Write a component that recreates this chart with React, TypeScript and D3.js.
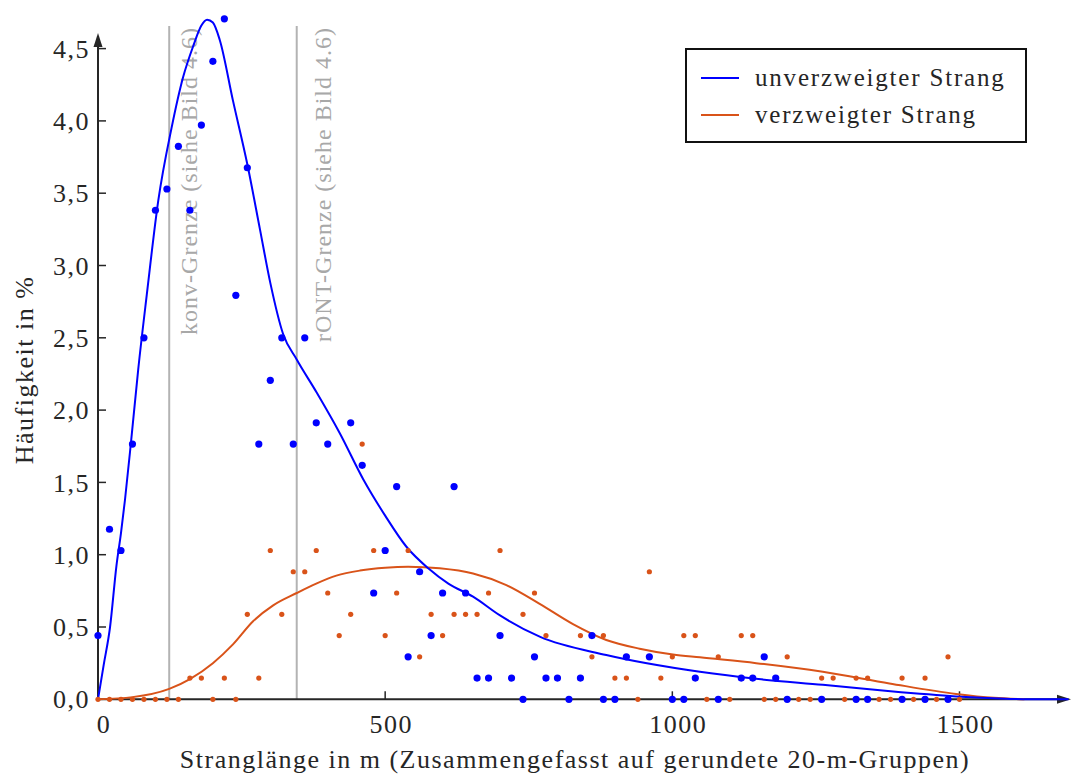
import React from 'react';
import * as d3 from 'd3';

// ---- data ----
const blueDotsX = [0, 20, 40, 60, 80, 100, 120, 140, 160, 180, 200, 220, 240, 260, 280, 300, 320, 340, 360, 380, 400, 440, 460, 480, 500, 520, 540, 560, 580, 600, 620, 640, 660, 680, 700, 720, 740, 760, 780, 800, 820, 840, 860, 880, 900, 920, 960, 1000, 1020, 1040, 1080, 1120, 1140, 1160, 1180, 1200, 1260, 1320, 1340, 1400, 1440, 1480];
const blueDotsY = [0.441, 1.176, 1.029, 1.765, 2.5, 3.382, 3.529, 3.824, 3.382, 3.971, 4.412, 4.706, 2.794, 3.676, 1.765, 2.206, 2.5, 1.765, 2.5, 1.912, 1.765, 1.912, 1.618, 0.735, 1.029, 1.471, 0.294, 0.882, 0.441, 0.735, 1.471, 0.735, 0.147, 0.147, 0.441, 0.147, 0, 0.294, 0.147, 0.147, 0, 0.147, 0.441, 0, 0, 0.294, 0.294, 0, 0, 0.147, 0, 0.147, 0.147, 0.294, 0.147, 0, 0, 0, 0, 0, 0, 0];

const orangeDotsX = [0, 20, 40, 60, 80, 100, 120, 140, 160, 180, 200, 220, 240, 260, 280, 300, 320, 340, 360, 380, 400, 420, 440, 460, 480, 500, 520, 540, 560, 580, 600, 620, 640, 660, 680, 700, 740, 760, 780, 840, 860, 880, 900, 920, 940, 960, 980, 1000, 1020, 1040, 1060, 1080, 1100, 1120, 1140, 1160, 1180, 1200, 1220, 1240, 1260, 1280, 1300, 1320, 1340, 1360, 1380, 1400, 1420, 1440, 1460, 1480, 1500];
const orangeDotsY = [0, 0, 0, 0, 0, 0, 0, 0, 0.147, 0.147, 0, 0.147, 0, 0.588, 0.147, 1.029, 0.588, 0.882, 0.882, 1.029, 0.735, 0.441, 0.588, 1.765, 1.029, 0.441, 0.735, 1.029, 0.294, 0.588, 0.441, 0.588, 0.588, 0.588, 0.735, 1.029, 0.588, 0.735, 0.441, 0.441, 0.294, 0.441, 0.147, 0.147, 0, 0.882, 0.147, 0.294, 0.441, 0.441, 0, 0.294, 0, 0.441, 0.441, 0, 0, 0.294, 0, 0, 0.147, 0.147, 0, 0.147, 0.147, 0, 0, 0.147, 0, 0.147, 0, 0.294, 0];

const blueCurveX = [0, 10, 21, 32, 40, 47, 58, 70, 85, 105, 128, 148, 166, 180, 190, 200, 212, 235, 260, 282, 300, 322, 346, 381, 421, 462, 500, 537, 575, 610, 653, 700, 769, 885, 1048, 1150, 1262, 1380, 1494, 1580, 1620, 1690];
const blueCurveY = [0, 0.24, 0.5, 0.92, 1.15, 1.38, 1.8, 2.28, 2.8, 3.45, 3.95, 4.3, 4.52, 4.66, 4.7, 4.68, 4.56, 4.14, 3.7, 3.25, 2.88, 2.53, 2.35, 2.12, 1.84, 1.52, 1.27, 1.055, 0.906, 0.8, 0.71, 0.58, 0.433, 0.306, 0.19, 0.14, 0.1, 0.055, 0.02, 0.004, 0, 0];

const orangeCurveX = [0, 60, 124, 160, 200, 235, 270, 305, 346, 380, 415, 456, 500, 540, 595, 653, 711, 769, 827, 885, 943, 1001, 1048, 1146, 1262, 1378, 1494, 1560, 1613];
const orangeCurveY = [0, 0.015, 0.072, 0.14, 0.25, 0.38, 0.54, 0.65, 0.735, 0.8, 0.855, 0.89, 0.91, 0.917, 0.906, 0.87, 0.79, 0.66, 0.52, 0.41, 0.35, 0.31, 0.29, 0.25, 0.19, 0.11, 0.037, 0.01, 0];

const yTicks = [0, 0.5, 1, 1.5, 2, 2.5, 3, 3.5, 4, 4.5];
const xTicks = [0, 500, 1000, 1500];
const seriesNames = ['unverzweigter Strang', 'verzweigter Strang'];
const refLinesX = [124, 346];
const refLabels = ['konv-Grenze (siehe Bild 4.6)', 'rONT-Grenze (siehe Bild 4.6)'];
const xTitle = 'Stranglänge in m (Zusammengefasst auf gerundete 20-m-Gruppen)';
const yTitle = 'Häufigkeit in %';

const BLUE = '#0000ff';
const ORANGE = '#d95319';
const AXIS = '#262626';
const FONT = '"Liberation Serif", "Times New Roman", serif';

export default function App() {
  const W = 1071, H = 776;
  const x = d3.scaleLinear().domain([0, 1500]).range([98, 959.5]);
  const y = d3.scaleLinear().domain([0, 4.5]).range([699.3, 48.6]);
  const y0 = y(0);
  const x0 = x(0);

  const line = d3.line<[number, number]>()
    .x(d => x(d[0]))
    .y(d => y(d[1]))
    .curve(d3.curveMonotoneX);

  const bluePath = line(blueCurveX.map((v, i) => [v, blueCurveY[i]] as [number, number])) || '';
  const orangePath = line(orangeCurveX.map((v, i) => [v, orangeCurveY[i]] as [number, number])) || '';
  const fmt = (v: number) => v.toFixed(1).replace('.', ',');

  return (
    <svg width={W} height={H} viewBox={`0 0 ${W} ${H}`}
      style={{ position: 'absolute', left: 0, top: 0, background: '#fff' }}
      fontFamily={FONT}>
      <rect x={0} y={0} width={W} height={H} fill="#fff" />

      {/* reference lines */}
      {refLinesX.map((v, i) => (
        <g key={'ref' + i}>
          <line x1={x(v)} x2={x(v)} y1={26} y2={y0} stroke="#b3b3b3" strokeWidth={2} />
        </g>
      ))}
      <text transform={`translate(${x(refLinesX[0]) + 28},27) rotate(-90)`} textAnchor="end"
        fontSize={24} fill="#a8a8a8" style={{ letterSpacing: '1px' }}>{refLabels[0]}</text>
      <text transform={`translate(${x(refLinesX[1]) + 34},27) rotate(-90)`} textAnchor="end"
        fontSize={24} fill="#a8a8a8" style={{ letterSpacing: '1px' }}>{refLabels[1]}</text>

      {/* axes */}
      <line x1={x0} x2={1060} y1={y0} y2={y0} stroke={AXIS} strokeWidth={2} />
      <path d={`M1071,${y0} L1057,${y0 - 4.5} L1057,${y0 + 4.5} Z`} fill={AXIS} />
      <line x1={x0} x2={x0} y1={y0} y2={36} stroke={AXIS} strokeWidth={2} />
      <path d={`M${x0},33 L${x0 - 4.5},47 L${x0 + 4.5},47 Z`} fill={AXIS} />

      {yTicks.map(t => (
        <g key={'yt' + t}>
          {t > 0 && <line x1={x0} x2={x0 + 8} y1={y(t)} y2={y(t)} stroke={AXIS} strokeWidth={1.5} />}
          <text x={90} y={y(t)} dy="0.35em" textAnchor="end" fontSize={26} fill={AXIS}
            style={{ letterSpacing: '1.5px' }}>{fmt(t)}</text>
        </g>
      ))}
      {xTicks.map(t => (
        <g key={'xt' + t}>
          {t > 0 && <line x1={x(t)} x2={x(t)} y1={y0} y2={y0 - 8} stroke={AXIS} strokeWidth={1.5} />}
          <text x={x(t) + 6} y={733} textAnchor="middle" fontSize={26} fill={AXIS}
            style={{ letterSpacing: '1.5px' }}>{t}</text>
        </g>
      ))}

      <text x={575} y={768} textAnchor="middle" fontSize={26} fill={AXIS}
        style={{ letterSpacing: '1.5px' }}>{xTitle}</text>
      <text transform="translate(33,370) rotate(-90)" textAnchor="middle" fontSize={26} fill={AXIS}
        style={{ letterSpacing: '1.5px' }}>{yTitle}</text>

      {/* curves */}
      <path d={orangePath} fill="none" stroke={ORANGE} strokeWidth={2} />
      <path d={bluePath} fill="none" stroke={BLUE} strokeWidth={2} />

      {/* dots */}
      {blueDotsX.map((v, i) => (
        <circle key={'b' + i} cx={x(v)} cy={y(blueDotsY[i])} r={3.6} fill={BLUE} />
      ))}
      {orangeDotsX.map((v, i) => (
        <circle key={'o' + i} cx={x(v)} cy={y(orangeDotsY[i])} r={2.6} fill={ORANGE} />
      ))}

      {/* legend */}
      <rect x={686} y={49} width={340} height={93} fill="#fff" stroke="#111" strokeWidth={2} />
      <line x1={701} x2={739} y1={78} y2={78} stroke={BLUE} strokeWidth={2} />
      <text x={755} y={86} fontSize={25} fill={AXIS} style={{ letterSpacing: '1.8px' }}>{seriesNames[0]}</text>
      <line x1={701} x2={739} y1={115} y2={115} stroke={ORANGE} strokeWidth={2} />
      <text x={755} y={123} fontSize={25} fill={AXIS} style={{ letterSpacing: '1.8px' }}>{seriesNames[1]}</text>
    </svg>
  );
}
